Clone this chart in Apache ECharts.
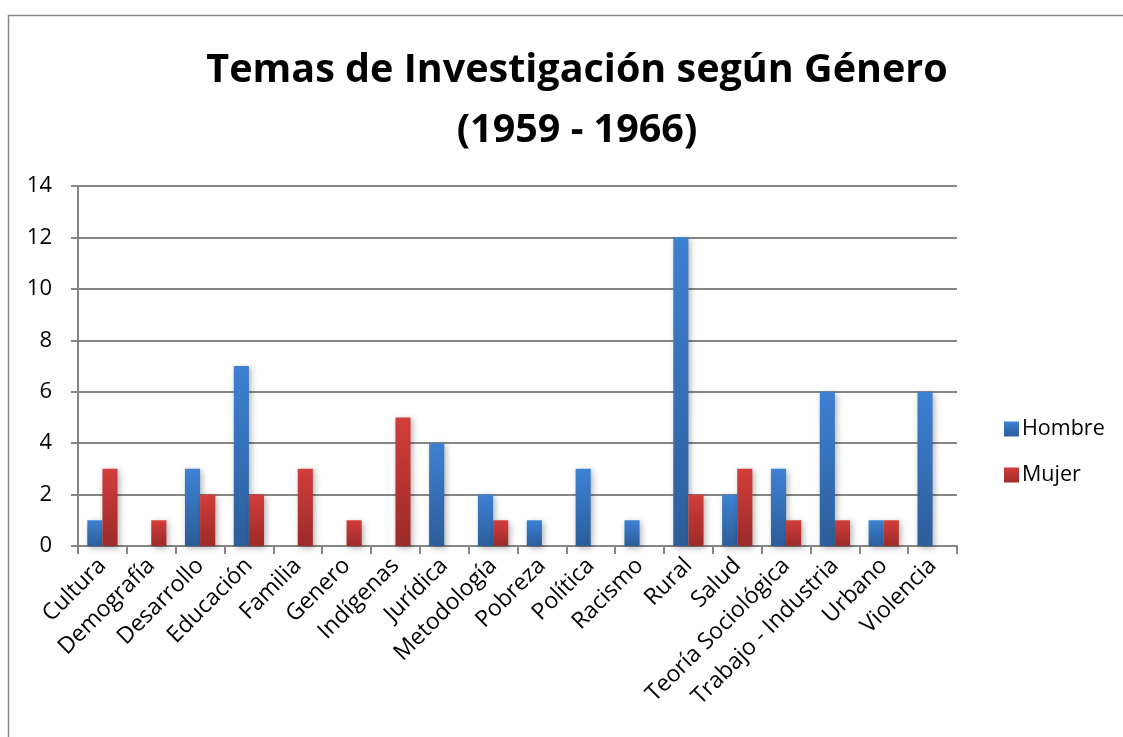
<!DOCTYPE html>
<html>
<head>
<meta charset="utf-8">
<script src="https://cdn.jsdelivr.net/npm/echarts@6/dist/echarts.min.js"></script>
<style>
  html, body { margin: 0; padding: 0; background: #fff; }
  #chart { width: 1123px; height: 737px; }
</style>
</head>
<body>
<div id="chart"></div>
<script>
const temas = ['Cultura', 'Demografía', 'Desarrollo', 'Educación', 'Familia', 'Genero', 'Indígenas', 'Jurídica', 'Metodología', 'Pobreza', 'Política', 'Racismo', 'Rural', 'Salud', 'Teoría Sociológica', 'Trabajo - Industria', 'Urbano', 'Violencia']
const hombre = [1, 0, 3, 7, 0, 0, 0, 4, 2, 1, 3, 1, 12, 2, 3, 6, 1, 6]
const mujer = [3, 1, 2, 2, 3, 1, 5, 0, 1, 0, 0, 0, 2, 3, 1, 1, 1, 0]
const yTicks = [0, 2, 4, 6, 8, 10, 12, 14]

const font = '"Open Sans", "Noto Sans", sans-serif'
const chart = echarts.init(document.getElementById('chart'), undefined, { renderer: 'canvas' })

const grad = (top, bottom) => new echarts.graphic.LinearGradient(0, 0, 0, 1, [
  { offset: 0, color: top },
  { offset: 1, color: bottom }
])

chart.setOption({
  animation: false,
  backgroundColor: '#fff',
  graphic: [{
    type: 'rect',
    shape: { x: 8.5, y: 15.5, width: 1130, height: 740 },
    style: { fill: 'none', stroke: '#868686', lineWidth: 1.5 },
    silent: true
  }],
  title: {
    text: 'Temas de Investigación según Género\n(1959 - 1966)',
    left: 572,
    textAlign: 'center',
    top: 36,
    textStyle: { fontFamily: font, fontSize: 39.5, fontWeight: 'bold', color: '#000', lineHeight: 60 }
  },
  legend: {
    orient: 'vertical',
    left: 999,
    top: 413,
    itemWidth: 15,
    itemHeight: 15,
    itemGap: 24,
    icon: 'rect',
    textStyle: { fontFamily: font, fontSize: 21.5, color: '#000', padding: [0, 0, 0, -2] },
    data: ['Hombre', 'Mujer']
  },
  grid: { left: 78, right: 166, top: 186, bottom: 191 },
  xAxis: {
    type: 'category',
    data: temas,
    axisLine: { show: true, lineStyle: { color: '#868686', width: 2 } },
    axisTick: { show: true, length: 8, lineStyle: { color: '#868686', width: 2 } },
    axisLabel: { rotate: 45, interval: 0, fontFamily: font, fontSize: 23, color: '#000', margin: 16 }
  },
  yAxis: {
    type: 'value',
    min: 0,
    max: yTicks[yTicks.length - 1],
    interval: 2,
    axisLine: { show: true, lineStyle: { color: '#868686', width: 2 } },
    axisTick: { show: true, length: 7, lineStyle: { color: '#868686', width: 2 } },
    splitLine: { lineStyle: { color: '#868686', width: 2 } },
    axisLabel: { fontFamily: font, fontSize: 22, color: '#000', margin: 26 }
  },
  series: [
    {
      name: 'Hombre',
      type: 'bar',
      data: hombre,
      barGap: '0%',
      barCategoryGap: '38%',
      itemStyle: {
        color: grad('#3d81d3', '#2c5d9a'),
        shadowColor: 'rgba(0,0,0,0.3)',
        shadowBlur: 6,
        shadowOffsetX: 2,
        shadowOffsetY: 2
      }
    },
    {
      name: 'Mujer',
      type: 'bar',
      data: mujer,
      itemStyle: {
        color: grad('#d23d3a', '#9b2b29'),
        shadowColor: 'rgba(0,0,0,0.3)',
        shadowBlur: 6,
        shadowOffsetX: 2,
        shadowOffsetY: 2
      }
    }
  ]
})
</script>
</body>
</html>
